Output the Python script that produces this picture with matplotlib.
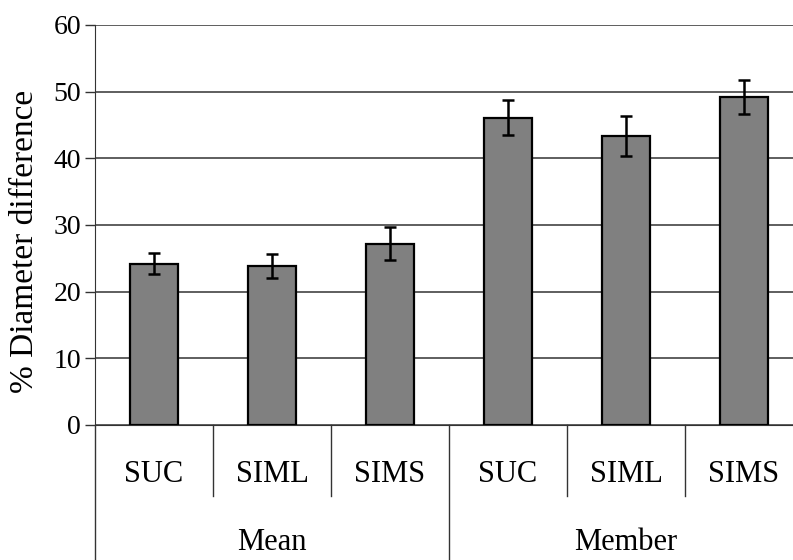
import matplotlib.pyplot as plt
import numpy as np

plt.rcParams['font.family'] = ['Liberation Serif', 'DejaVu Serif']

# diameter difference per method, grouped by ensemble type
methods = ['SUC', 'SIML', 'SIMS', 'SUC', 'SIML', 'SIMS']
groups = ['Mean', 'Member']
values = [24.2, 23.9, 27.2, 46.1, 43.4, 49.2]
errors = [1.6, 1.8, 2.45, 2.6, 3.0, 2.5]

fig = plt.figure(figsize=(7.93, 5.6), dpi=100)
ax = fig.add_axes([95 / 793, 135 / 560, 708 / 793, 400 / 560])

x = np.arange(len(values))
ax.bar(x, values, width=0.41, color='#808080', edgecolor='black', linewidth=1.6,
       zorder=3)
ax.errorbar(x, values, yerr=errors, fmt='none', ecolor='black', elinewidth=1.8,
            capsize=4, capthick=1.8, zorder=4)

ax.set_xlim(-0.5, 5.5)
ax.set_ylim(0, 60)
ax.set_yticks(range(0, 61, 10))
ax.yaxis.grid(True, color='#333333', linewidth=1.1, zorder=0)
ax.set_xticks([])
ax.tick_params(axis='y', direction='out', length=7, width=1, labelsize=20,
               color='#333333', pad=3)
for s in ['top', 'right']:
    ax.spines[s].set_visible(False)
ax.spines['left'].set_color('#333333')
ax.spines['bottom'].set_color('#333333')
ax.set_ylabel('% Diameter difference', fontsize=24)
ax.yaxis.set_label_coords(-0.077, 0.46)

# two-level category axis below the plot
trans = ax.get_xaxis_transform()
for xs in [0.5, 1.5, 3.5, 4.5]:
    ax.plot([xs, xs], [0, -0.1775], transform=trans, color='#333333', lw=1,
            clip_on=False)
for xs in [-0.5, 2.5]:
    ax.plot([xs, xs], [0, -0.4], transform=trans, color='#333333', lw=1,
            clip_on=False)
for xi, m in zip(x, methods):
    ax.text(xi, -0.125, m, transform=trans, ha='center', va='center', fontsize=22)
for gi, g in enumerate(groups):
    ax.text(1 + 3 * gi, -0.295, g, transform=trans, ha='center', va='center',
            fontsize=22)

fig.savefig('out.png', dpi=100)
